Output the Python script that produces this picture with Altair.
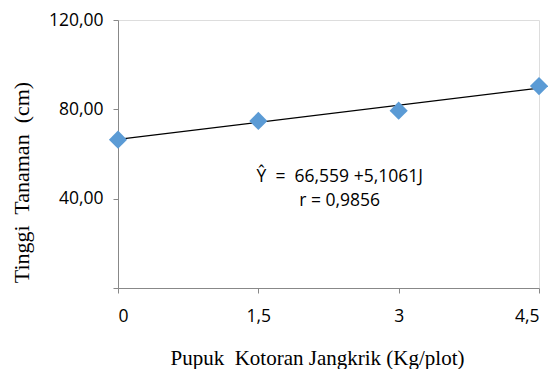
import altair as alt
import pandas as pd

dose = [0, 1.5, 3, 4.5]
height = [66.4, 74.8, 79.4, 90.4]
fit_x = [0, 4.5]
fit_y = [66.559, 89.536]
NB = "\u00a0"
eq_lines = [f"Ŷ{NB}{NB}={NB}{NB}66,559 +5,1061J", "r = 0,9856"]
eq_x = [2.37, 2.37]
eq_y = [49.6, 39.0]

pts = pd.DataFrame({"x": dose, "y": height})
fit = pd.DataFrame({"x": fit_x, "y": fit_y})
ann = pd.DataFrame({"x": eq_x, "y": eq_y, "t": eq_lines})

xs = alt.Scale(domain=[0, 4.5], nice=False, zero=False)
ys = alt.Scale(domain=[0, 120], nice=False)

xaxis = alt.Axis(
    title=f"Pupuk{NB} Kotoran Jangkrik (Kg/plot)", values=dose, grid=False,
    labelExpr="replace(toString(datum.value), '.', ',')",
    titleFont="Liberation Serif", titleFontSize=21, titleFontWeight="normal",
    titleColor="black", titlePadding=23, titleX=199,
    labelFont="Open Sans", labelFontSize=17.5, labelColor="black", labelPadding=14,
    domainColor="#888888", tickColor="#888888", tickSize=5,
)
yaxis = alt.Axis(
    title=f"Tinggi{NB} Tanaman{NB} (cm)", values=[0, 40, 80, 120], grid=False,
    labelExpr="datum.value == 0 ? '' : replace(format(datum.value, '.2f'), '.', ',')",
    titleFont="Liberation Serif", titleFontSize=22, titleFontWeight="normal",
    titleColor="black", titlePadding=15, titleY=162,
    labelFont="Open Sans", labelFontSize=17.5, labelColor="black", labelPadding=10,
    domainColor="#888888", tickColor="#888888", tickSize=5,
)

line = alt.Chart(fit).mark_line(color="black", strokeWidth=1.2).encode(
    x=alt.X("x:Q", scale=xs, axis=xaxis),
    y=alt.Y("y:Q", scale=ys, axis=yaxis),
)
points = alt.Chart(pts).mark_point(
    shape="diamond", filled=True, size=330, color="#5B9BD5", opacity=1
).encode(x=alt.X("x:Q", scale=xs), y=alt.Y("y:Q", scale=ys))
text = alt.Chart(ann).mark_text(
    font="Open Sans", fontSize=17.5, color="black", align="center", baseline="middle"
).encode(x=alt.X("x:Q", scale=xs), y=alt.Y("y:Q", scale=ys), text="t:N")

chart = alt.layer(line, points, text).properties(
    width=421, height=268,
    autosize=alt.AutoSizeParams(type="none"),
    padding={"left": 110, "top": 12, "right": 9, "bottom": 81},
).configure_view(stroke=None).configure(background="white")

chart.save("out.html", embed_options={"renderer": "svg", "actions": False})
